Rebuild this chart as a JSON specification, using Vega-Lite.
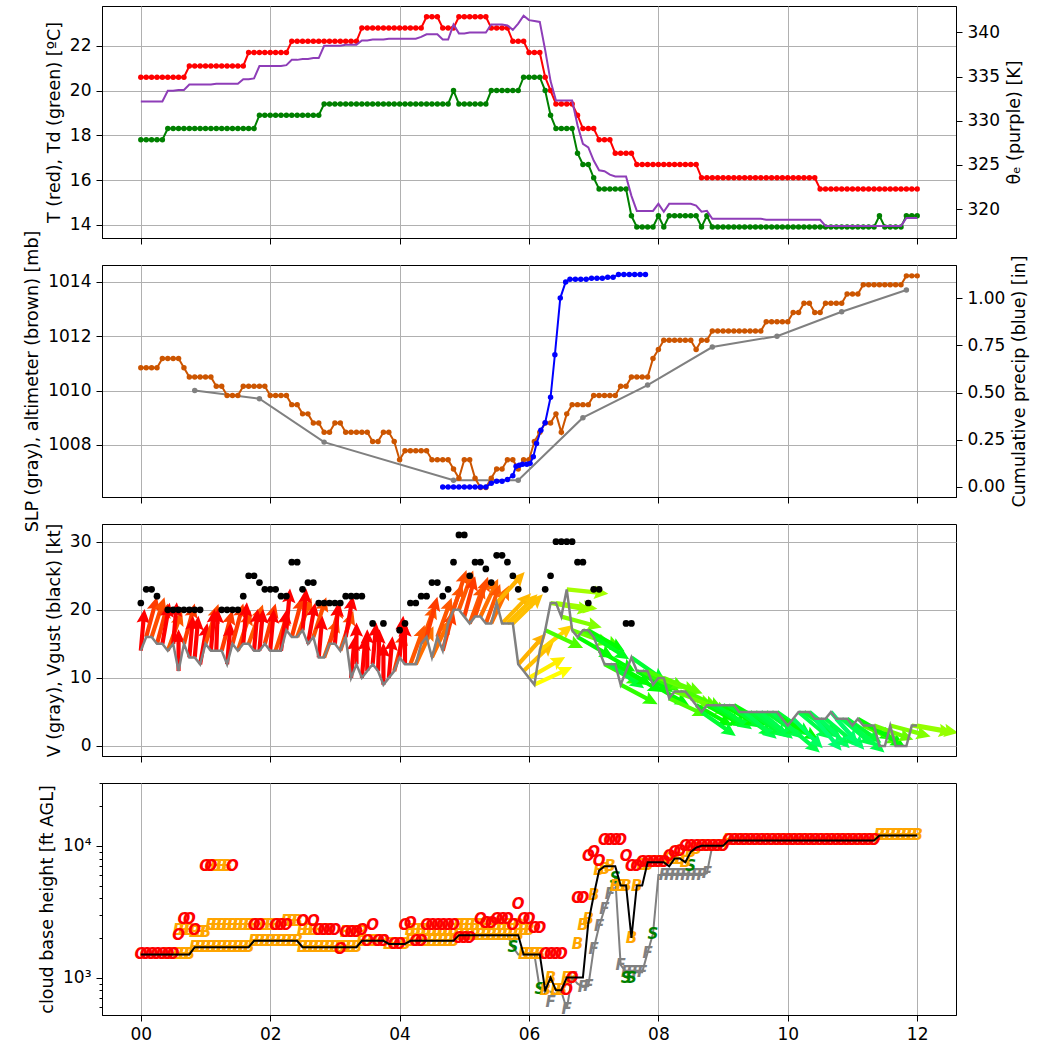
{
"$schema":"https://vega.github.io/schema/vega-lite/v6.json",
"padding":{"left":23,"top":5,"right":5,"bottom":5},
"spacing":27,
"bounds":"flush",
"config":{
 "font":"DejaVu Sans",
 "view":{"stroke":"black","strokeWidth":1},
 "axis":{"labelFont":"DejaVu Sans","titleFont":"DejaVu Sans","labelFontSize":17,"titleFontSize":17.5,"titleFontWeight":"normal","labelColor":"black","titleColor":"black","tickColor":"black","domainColor":"black","tickSize":6,"tickWidth":1,"gridColor":"#b0b0b0","gridWidth":1,"gridOpacity":1,"labelPadding":5,"titlePadding":6,"labelFlush":false}
},
"datasets":{
"obs":[
{"t":0,"T":20.6,"Td":17.8,"te":332.2,"alt":1010.84,"V":14,"G":21,"dir":185,"ceil":1500,"low":1500},
{"t":5,"T":20.6,"Td":17.8,"te":332.2,"alt":1010.84,"V":16,"G":23,"dir":195,"ceil":1500,"low":1500},
{"t":10,"T":20.6,"Td":17.8,"te":332.2,"alt":1010.84,"V":16,"G":23,"dir":198,"ceil":1500,"low":1500},
{"t":15,"T":20.6,"Td":17.8,"te":332.2,"alt":1010.84,"V":15,"G":22,"dir":195,"ceil":1500,"low":1500},
{"t":20,"T":20.6,"Td":17.8,"te":332.2,"alt":1011.18,"V":15,"G":null,"dir":190,"ceil":1500,"low":1500},
{"t":25,"T":20.6,"Td":18.3,"te":333.4,"alt":1011.18,"V":14,"G":20,"dir":200,"ceil":1500,"low":1500},
{"t":30,"T":20.6,"Td":18.3,"te":333.4,"alt":1011.18,"V":15,"G":20,"dir":185,"ceil":1500,"low":1500},
{"t":35,"T":20.6,"Td":18.3,"te":333.5,"alt":1011.18,"V":11,"G":20,"dir":180,"ceil":1500,"low":1500},
{"t":40,"T":20.6,"Td":18.3,"te":333.5,"alt":1010.84,"V":15,"G":20,"dir":195,"ceil":1500,"low":1500},
{"t":45,"T":21.1,"Td":18.3,"te":334.1,"alt":1010.5,"V":13,"G":20,"dir":185,"ceil":1500,"low":1500},
{"t":50,"T":21.1,"Td":18.3,"te":334.1,"alt":1010.5,"V":13,"G":20,"dir":185,"ceil":1700,"low":1700},
{"t":55,"T":21.1,"Td":18.3,"te":334.1,"alt":1010.5,"V":12,"G":20,"dir":190,"ceil":1700,"low":1700},
{"t":60,"T":21.1,"Td":18.3,"te":334.1,"alt":1010.5,"V":15,"G":null,"dir":198,"ceil":1700,"low":1700},
{"t":65,"T":21.1,"Td":18.3,"te":334.1,"alt":1010.5,"V":14,"G":null,"dir":185,"ceil":1700,"low":1700},
{"t":70,"T":21.1,"Td":18.3,"te":334.2,"alt":1010.16,"V":14,"G":null,"dir":182,"ceil":1700,"low":1700},
{"t":75,"T":21.1,"Td":18.3,"te":334.2,"alt":1010.16,"V":14,"G":20,"dir":195,"ceil":1700,"low":1700},
{"t":80,"T":21.1,"Td":18.3,"te":334.2,"alt":1009.82,"V":12,"G":20,"dir":185,"ceil":1700,"low":1700},
{"t":85,"T":21.1,"Td":18.3,"te":334.2,"alt":1009.82,"V":15,"G":20,"dir":195,"ceil":1700,"low":1700},
{"t":90,"T":21.1,"Td":18.3,"te":334.2,"alt":1009.82,"V":14,"G":20,"dir":198,"ceil":1700,"low":1700},
{"t":95,"T":21.1,"Td":18.3,"te":334.7,"alt":1010.16,"V":15,"G":22,"dir":185,"ceil":1700,"low":1700},
{"t":100,"T":21.7,"Td":18.3,"te":334.7,"alt":1010.16,"V":15,"G":25,"dir":200,"ceil":1700,"low":1700},
{"t":105,"T":21.7,"Td":18.3,"te":334.8,"alt":1010.16,"V":14,"G":25,"dir":185,"ceil":1900,"low":1900},
{"t":110,"T":21.7,"Td":18.9,"te":336.2,"alt":1010.16,"V":14,"G":24,"dir":185,"ceil":1900,"low":1900},
{"t":115,"T":21.7,"Td":18.9,"te":336.2,"alt":1010.16,"V":15,"G":23,"dir":195,"ceil":1900,"low":1900},
{"t":120,"T":21.7,"Td":18.9,"te":336.2,"alt":1009.82,"V":14,"G":23,"dir":185,"ceil":1900,"low":1900},
{"t":125,"T":21.7,"Td":18.9,"te":336.2,"alt":1009.82,"V":14,"G":23,"dir":198,"ceil":1900,"low":1900},
{"t":130,"T":21.7,"Td":18.9,"te":336.2,"alt":1009.82,"V":14,"G":22,"dir":188,"ceil":1900,"low":1900},
{"t":135,"T":21.7,"Td":18.9,"te":336.3,"alt":1009.82,"V":17,"G":22,"dir":185,"ceil":1900,"low":1900},
{"t":140,"T":22.2,"Td":18.9,"te":336.9,"alt":1009.48,"V":16,"G":27,"dir":195,"ceil":1900,"low":1900},
{"t":145,"T":22.2,"Td":18.9,"te":336.9,"alt":1009.48,"V":16,"G":27,"dir":200,"ceil":1900,"low":1900},
{"t":150,"T":22.2,"Td":18.9,"te":337.0,"alt":1009.14,"V":17,"G":23,"dir":185,"ceil":1700,"low":1700},
{"t":155,"T":22.2,"Td":18.9,"te":337.0,"alt":1009.14,"V":15,"G":24,"dir":190,"ceil":1700,"low":1700},
{"t":160,"T":22.2,"Td":18.9,"te":337.1,"alt":1008.8,"V":16,"G":24,"dir":198,"ceil":1700,"low":1700},
{"t":165,"T":22.2,"Td":18.9,"te":337.1,"alt":1008.8,"V":13,"G":21,"dir":185,"ceil":1700,"low":1700},
{"t":170,"T":22.2,"Td":19.4,"te":338.5,"alt":1008.46,"V":13,"G":21,"dir":200,"ceil":1700,"low":1700},
{"t":175,"T":22.2,"Td":19.4,"te":338.5,"alt":1008.46,"V":15,"G":21,"dir":195,"ceil":1700,"low":1700},
{"t":180,"T":22.2,"Td":19.4,"te":338.5,"alt":1008.8,"V":15,"G":21,"dir":185,"ceil":1700,"low":1700},
{"t":185,"T":22.2,"Td":19.4,"te":338.5,"alt":1008.8,"V":14,"G":21,"dir":198,"ceil":1700,"low":1700},
{"t":190,"T":22.2,"Td":19.4,"te":338.6,"alt":1008.46,"V":16,"G":22,"dir":190,"ceil":1700,"low":1700},
{"t":195,"T":22.2,"Td":19.4,"te":338.6,"alt":1008.46,"V":10,"G":22,"dir":185,"ceil":1700,"low":1700},
{"t":200,"T":22.2,"Td":19.4,"te":338.6,"alt":1008.46,"V":12,"G":22,"dir":180,"ceil":1700,"low":1700},
{"t":205,"T":22.8,"Td":19.4,"te":339.1,"alt":1008.46,"V":10,"G":22,"dir":185,"ceil":1900,"low":1900},
{"t":210,"T":22.8,"Td":19.4,"te":339.1,"alt":1008.46,"V":11,"G":null,"dir":180,"ceil":1900,"low":1900},
{"t":215,"T":22.8,"Td":19.4,"te":339.2,"alt":1008.12,"V":12,"G":18,"dir":185,"ceil":1900,"low":1900},
{"t":220,"T":22.8,"Td":19.4,"te":339.2,"alt":1008.12,"V":11,"G":null,"dir":182,"ceil":1900,"low":1900},
{"t":225,"T":22.8,"Td":19.4,"te":339.2,"alt":1008.46,"V":9,"G":18,"dir":180,"ceil":1900,"low":1900},
{"t":230,"T":22.8,"Td":19.4,"te":339.3,"alt":1008.46,"V":10,"G":null,"dir":185,"ceil":1800,"low":1800},
{"t":235,"T":22.8,"Td":19.4,"te":339.3,"alt":1008.12,"V":11,"G":null,"dir":195,"ceil":1800,"low":1800},
{"t":240,"T":22.8,"Td":19.4,"te":339.3,"alt":1007.45,"V":13,"G":17,"dir":185,"ceil":1800,"low":1800},
{"t":245,"T":22.8,"Td":19.4,"te":339.3,"alt":1007.78,"V":12,"G":18,"dir":180,"ceil":1800,"low":1800},
{"t":250,"T":22.8,"Td":19.4,"te":339.3,"alt":1007.78,"V":12,"G":21,"dir":200,"ceil":1900,"low":1900},
{"t":255,"T":22.8,"Td":19.4,"te":339.3,"alt":1007.78,"V":12,"G":21,"dir":205,"ceil":1900,"low":1900},
{"t":260,"T":22.8,"Td":19.4,"te":339.5,"alt":1007.78,"V":15,"G":22,"dir":200,"ceil":1900,"low":1900},
{"t":265,"T":23.3,"Td":19.4,"te":339.8,"alt":1007.78,"V":16,"G":22,"dir":195,"ceil":1900,"low":1900},
{"t":270,"T":23.3,"Td":19.4,"te":339.8,"alt":1007.45,"V":13,"G":24,"dir":205,"ceil":1900,"low":1900},
{"t":275,"T":23.3,"Td":19.4,"te":339.8,"alt":1007.45,"V":16,"G":24,"dir":200,"ceil":1900,"low":1900},
{"t":280,"T":22.8,"Td":19.4,"te":339.2,"alt":1007.45,"V":14,"G":22,"dir":195,"ceil":1900,"low":1900},
{"t":285,"T":22.8,"Td":19.4,"te":339.2,"alt":1007.45,"V":18,"G":23,"dir":200,"ceil":1900,"low":1900},
{"t":290,"T":22.8,"Td":20.0,"te":340.9,"alt":1007.11,"V":20,"G":27,"dir":198,"ceil":1900,"low":1900},
{"t":295,"T":23.3,"Td":19.4,"te":339.9,"alt":1006.77,"V":20,"G":31,"dir":200,"ceil":2100,"low":2100},
{"t":300,"T":23.3,"Td":19.4,"te":339.9,"alt":1007.45,"V":19,"G":31,"dir":195,"ceil":2100,"low":2100},
{"t":305,"T":23.3,"Td":19.4,"te":340.0,"alt":1007.45,"V":18,"G":25,"dir":200,"ceil":2100,"low":2100},
{"t":310,"T":23.3,"Td":19.4,"te":340.0,"alt":1006.77,"V":19,"G":27,"dir":198,"ceil":2100,"low":2100},
{"t":315,"T":23.3,"Td":19.4,"te":340.0,"alt":1006.43,"V":19,"G":27,"dir":205,"ceil":2100,"low":2100},
{"t":320,"T":23.3,"Td":19.4,"te":340.0,"alt":1006.43,"V":18,"G":26,"dir":200,"ceil":2100,"low":2100},
{"t":325,"T":22.8,"Td":20.0,"te":340.9,"alt":1006.77,"V":18,"G":24,"dir":205,"ceil":2100,"low":2100},
{"t":330,"T":22.8,"Td":20.0,"te":340.9,"alt":1007.11,"V":21,"G":28,"dir":222,"ceil":2100,"low":2100},
{"t":335,"T":22.8,"Td":20.0,"te":340.9,"alt":1007.11,"V":18,"G":28,"dir":224,"ceil":2100,"low":2100},
{"t":340,"T":22.8,"Td":20.0,"te":340.8,"alt":1007.45,"V":18,"G":27,"dir":226,"ceil":2100,"low":2100},
{"t":345,"T":22.2,"Td":20.0,"te":340.3,"alt":1007.45,"V":18,"G":25,"dir":226,"ceil":2100,"low":1700},
{"t":350,"T":22.2,"Td":20.0,"te":341.0,"alt":1007.11,"V":12,"G":23,"dir":222,"ceil":2100,"low":1500},
{"t":355,"T":22.2,"Td":20.6,"te":341.9,"alt":1007.45,"V":11,"G":null,"dir":226,"ceil":1500,"low":1500},
{"t":360,"T":21.7,"Td":20.6,"te":341.4,"alt":1007.45,"V":10,"G":null,"dir":240,"ceil":1500,"low":1500},
{"t":365,"T":21.7,"Td":20.6,"te":341.3,"alt":1008.12,"V":9,"G":null,"dir":245,"ceil":1500,"low":1500},
{"t":370,"T":21.7,"Td":20.6,"te":341.2,"alt":1008.46,"V":14,"G":null,"dir":232,"ceil":1500,"low":820},
{"t":375,"T":20.6,"Td":20.0,"te":338.0,"alt":1008.8,"V":17,"G":23,"dir":295,"ceil":800,"low":800},
{"t":380,"T":20.0,"Td":18.9,"te":334.5,"alt":1008.8,"V":21,"G":25,"dir":280,"ceil":1000,"low":780},
{"t":385,"T":19.4,"Td":18.3,"te":332.3,"alt":1009.14,"V":21,"G":30,"dir":278,"ceil":800,"low":750},
{"t":390,"T":19.4,"Td":18.3,"te":332.3,"alt":1008.46,"V":19,"G":30,"dir":285,"ceil":800,"low":780},
{"t":395,"T":19.4,"Td":18.3,"te":332.3,"alt":1009.14,"V":23,"G":30,"dir":276,"ceil":1000,"low":580},
{"t":400,"T":19.4,"Td":18.3,"te":332.3,"alt":1009.48,"V":17,"G":30,"dir":290,"ceil":1000,"low":1000},
{"t":405,"T":18.9,"Td":17.2,"te":329.5,"alt":1009.48,"V":16,"G":27,"dir":300,"ceil":1000,"low":900},
{"t":410,"T":18.3,"Td":16.7,"te":327.4,"alt":1009.48,"V":17,"G":27,"dir":295,"ceil":1000,"low":850},
{"t":415,"T":18.3,"Td":16.7,"te":327.0,"alt":1009.48,"V":17,"G":21,"dir":300,"ceil":2600,"low":860},
{"t":420,"T":18.3,"Td":16.1,"te":325.5,"alt":1009.82,"V":16,"G":23,"dir":302,"ceil":4200,"low":1650},
{"t":425,"T":17.8,"Td":15.6,"te":324.4,"alt":1009.82,"V":14,"G":23,"dir":300,"ceil":6500,"low":2450},
{"t":430,"T":17.8,"Td":15.6,"te":324.3,"alt":1009.82,"V":12,"G":null,"dir":298,"ceil":7000,"low":3300},
{"t":435,"T":17.8,"Td":15.6,"te":323.9,"alt":1009.82,"V":12,"G":null,"dir":305,"ceil":7000,"low":4300},
{"t":440,"T":17.2,"Td":15.6,"te":323.7,"alt":1009.82,"V":12,"G":null,"dir":300,"ceil":7000,"low":5700},
{"t":445,"T":17.2,"Td":15.6,"te":323.7,"alt":1010.16,"V":9,"G":null,"dir":298,"ceil":5000,"low":1250},
{"t":450,"T":17.2,"Td":15.6,"te":323.7,"alt":1010.16,"V":11,"G":18,"dir":300,"ceil":5000,"low":1100},
{"t":455,"T":17.2,"Td":14.4,"te":321.5,"alt":1010.5,"V":13,"G":18,"dir":305,"ceil":2000,"low":1100},
{"t":460,"T":16.7,"Td":13.9,"te":319.8,"alt":1010.5,"V":11,"G":null,"dir":300,"ceil":5000,"low":1100},
{"t":465,"T":16.7,"Td":13.9,"te":319.8,"alt":1010.5,"V":11,"G":null,"dir":298,"ceil":5000,"low":1100},
{"t":470,"T":16.7,"Td":13.9,"te":319.8,"alt":1010.5,"V":11,"G":null,"dir":295,"ceil":7500,"low":1550},
{"t":475,"T":16.7,"Td":13.9,"te":319.8,"alt":1011.18,"V":9,"G":null,"dir":300,"ceil":7500,"low":2150},
{"t":480,"T":16.7,"Td":14.4,"te":320.6,"alt":1011.51,"V":10,"G":null,"dir":290,"ceil":7500,"low":6000},
{"t":485,"T":16.7,"Td":13.9,"te":319.7,"alt":1011.85,"V":10,"G":null,"dir":292,"ceil":7500,"low":6000},
{"t":490,"T":16.7,"Td":14.4,"te":320.6,"alt":1011.85,"V":7,"G":null,"dir":295,"ceil":7000,"low":6000},
{"t":495,"T":16.7,"Td":14.4,"te":320.6,"alt":1011.85,"V":8,"G":null,"dir":290,"ceil":8000,"low":6000},
{"t":500,"T":16.7,"Td":14.4,"te":320.6,"alt":1011.85,"V":8,"G":null,"dir":292,"ceil":8000,"low":6000},
{"t":505,"T":16.7,"Td":14.4,"te":320.6,"alt":1011.85,"V":8,"G":null,"dir":295,"ceil":7500,"low":6000},
{"t":510,"T":16.7,"Td":14.4,"te":320.6,"alt":1011.85,"V":7,"G":null,"dir":290,"ceil":9000,"low":6000},
{"t":515,"T":16.7,"Td":14.4,"te":320.4,"alt":1011.51,"V":6,"G":null,"dir":300,"ceil":9700,"low":6000},
{"t":520,"T":16.1,"Td":13.9,"te":319.7,"alt":1011.85,"V":5,"G":null,"dir":305,"ceil":10000,"low":6000},
{"t":525,"T":16.1,"Td":14.4,"te":319.8,"alt":1011.85,"V":6,"G":null,"dir":300,"ceil":10000,"low":6200},
{"t":530,"T":16.1,"Td":13.9,"te":318.9,"alt":1012.19,"V":6,"G":null,"dir":302,"ceil":10000,"low":10000},
{"t":535,"T":16.1,"Td":13.9,"te":318.9,"alt":1012.19,"V":6,"G":null,"dir":305,"ceil":10000,"low":10000},
{"t":540,"T":16.1,"Td":13.9,"te":318.9,"alt":1012.19,"V":6,"G":null,"dir":300,"ceil":10000,"low":10000},
{"t":545,"T":16.1,"Td":13.9,"te":318.9,"alt":1012.19,"V":6,"G":null,"dir":303,"ceil":11000,"low":11000},
{"t":550,"T":16.1,"Td":13.9,"te":318.9,"alt":1012.19,"V":6,"G":null,"dir":300,"ceil":11000,"low":11000},
{"t":555,"T":16.1,"Td":13.9,"te":318.9,"alt":1012.19,"V":5,"G":null,"dir":305,"ceil":11000,"low":11000},
{"t":560,"T":16.1,"Td":13.9,"te":318.9,"alt":1012.19,"V":5,"G":null,"dir":310,"ceil":11000,"low":11000},
{"t":565,"T":16.1,"Td":13.9,"te":318.9,"alt":1012.19,"V":5,"G":null,"dir":305,"ceil":11000,"low":11000},
{"t":570,"T":16.1,"Td":13.9,"te":318.9,"alt":1012.19,"V":5,"G":null,"dir":308,"ceil":11000,"low":11000},
{"t":575,"T":16.1,"Td":13.9,"te":318.9,"alt":1012.19,"V":5,"G":null,"dir":310,"ceil":11000,"low":11000},
{"t":580,"T":16.1,"Td":13.9,"te":318.8,"alt":1012.53,"V":5,"G":null,"dir":305,"ceil":11000,"low":11000},
{"t":585,"T":16.1,"Td":13.9,"te":318.8,"alt":1012.53,"V":5,"G":null,"dir":310,"ceil":11000,"low":11000},
{"t":590,"T":16.1,"Td":13.9,"te":318.8,"alt":1012.53,"V":5,"G":null,"dir":305,"ceil":11000,"low":11000},
{"t":595,"T":16.1,"Td":13.9,"te":318.8,"alt":1012.53,"V":4,"G":null,"dir":300,"ceil":11000,"low":11000},
{"t":600,"T":16.1,"Td":13.9,"te":318.8,"alt":1012.53,"V":3,"G":null,"dir":310,"ceil":11000,"low":11000},
{"t":605,"T":16.1,"Td":13.9,"te":318.8,"alt":1012.87,"V":4,"G":null,"dir":315,"ceil":11000,"low":11000},
{"t":610,"T":16.1,"Td":13.9,"te":318.8,"alt":1012.87,"V":5,"G":null,"dir":310,"ceil":11000,"low":11000},
{"t":615,"T":16.1,"Td":13.9,"te":318.8,"alt":1013.21,"V":5,"G":null,"dir":305,"ceil":11000,"low":11000},
{"t":620,"T":16.1,"Td":13.9,"te":318.8,"alt":1013.21,"V":5,"G":null,"dir":310,"ceil":11000,"low":11000},
{"t":625,"T":16.1,"Td":13.9,"te":318.8,"alt":1012.87,"V":4,"G":null,"dir":320,"ceil":11000,"low":11000},
{"t":630,"T":15.6,"Td":13.9,"te":318.8,"alt":1012.87,"V":4,"G":null,"dir":315,"ceil":11000,"low":11000},
{"t":635,"T":15.6,"Td":13.9,"te":318.1,"alt":1013.21,"V":4,"G":null,"dir":310,"ceil":11000,"low":11000},
{"t":640,"T":15.6,"Td":13.9,"te":318.1,"alt":1013.21,"V":5,"G":null,"dir":320,"ceil":11000,"low":11000},
{"t":645,"T":15.6,"Td":13.9,"te":318.1,"alt":1013.21,"V":4,"G":null,"dir":318,"ceil":11000,"low":11000},
{"t":650,"T":15.6,"Td":13.9,"te":318.1,"alt":1013.21,"V":4,"G":null,"dir":310,"ceil":11000,"low":11000},
{"t":655,"T":15.6,"Td":13.9,"te":318.1,"alt":1013.55,"V":4,"G":null,"dir":305,"ceil":11000,"low":11000},
{"t":660,"T":15.6,"Td":13.9,"te":318.1,"alt":1013.55,"V":3,"G":null,"dir":310,"ceil":11000,"low":11000},
{"t":665,"T":15.6,"Td":13.9,"te":318.1,"alt":1013.55,"V":4,"G":null,"dir":300,"ceil":11000,"low":11000},
{"t":670,"T":15.6,"Td":13.9,"te":318.1,"alt":1013.89,"V":3,"G":null,"dir":295,"ceil":11000,"low":11000},
{"t":675,"T":15.6,"Td":13.9,"te":318.1,"alt":1013.89,"V":3,"G":null,"dir":300,"ceil":11000,"low":11000},
{"t":680,"T":15.6,"Td":13.9,"te":318.1,"alt":1013.89,"V":3,"G":null,"dir":290,"ceil":11000,"low":11000},
{"t":685,"T":15.6,"Td":14.4,"te":318.1,"alt":1013.89,"V":0,"G":null,"dir":null,"ceil":12000,"low":12000},
{"t":690,"T":15.6,"Td":13.9,"te":318.1,"alt":1013.89,"V":0,"G":null,"dir":null,"ceil":12000,"low":12000},
{"t":695,"T":15.6,"Td":13.9,"te":318.1,"alt":1013.89,"V":3,"G":null,"dir":285,"ceil":12000,"low":12000},
{"t":700,"T":15.6,"Td":13.9,"te":318.1,"alt":1013.89,"V":0,"G":null,"dir":null,"ceil":12000,"low":12000},
{"t":705,"T":15.6,"Td":13.9,"te":318.1,"alt":1013.89,"V":0,"G":null,"dir":null,"ceil":12000,"low":12000},
{"t":710,"T":15.6,"Td":14.4,"te":319.0,"alt":1014.22,"V":0,"G":null,"dir":null,"ceil":12000,"low":12000},
{"t":715,"T":15.6,"Td":14.4,"te":319.0,"alt":1014.22,"V":3,"G":null,"dir":280,"ceil":12000,"low":12000},
{"t":720,"T":15.6,"Td":14.4,"te":319.0,"alt":1014.22,"V":3,"G":null,"dir":280,"ceil":12000,"low":12000}
],
"slp":[{"t":50,"slp":1010.0},{"t":110,"slp":1009.7},{"t":170,"slp":1008.1},{"t":290,"slp":1006.7},{"t":350,"slp":1006.7},{"t":410,"slp":1009.0},{"t":470,"slp":1010.2},{"t":530,"slp":1011.6},{"t":590,"slp":1012.0},{"t":650,"slp":1012.9},{"t":710,"slp":1013.7}],
"pcp":[{"t":280,"p":0},{"t":285,"p":0},{"t":290,"p":0},{"t":295,"p":0},{"t":300,"p":0},{"t":305,"p":0},{"t":310,"p":0},{"t":315,"p":0},{"t":320,"p":0},{"t":325,"p":0.02},{"t":330,"p":0.03},{"t":335,"p":0.03},{"t":340,"p":0.04},{"t":345,"p":0.06},{"t":348,"p":0.11},{"t":351,"p":0.115},{"t":354,"p":0.12},{"t":358,"p":0.12},{"t":361,"p":0.125},{"t":364,"p":0.16},{"t":367,"p":0.23},{"t":371,"p":0.3},{"t":375,"p":0.34},{"t":380,"p":0.475},{"t":384,"p":0.7},{"t":389,"p":1.0},{"t":394,"p":1.085},{"t":398,"p":1.1},{"t":403,"p":1.1},{"t":408,"p":1.1},{"t":413,"p":1.1},{"t":418,"p":1.105},{"t":423,"p":1.105},{"t":428,"p":1.105},{"t":433,"p":1.11},{"t":438,"p":1.11},{"t":443,"p":1.125},{"t":448,"p":1.125},{"t":453,"p":1.125},{"t":458,"p":1.125},{"t":463,"p":1.125},{"t":468,"p":1.125}],
"cld":[
{"t":380,"c":"F","z":650},{"t":395,"c":"F","z":580},{"t":400,"c":"F","z":1000},{"t":410,"c":"F","z":850},{"t":415,"c":"F","z":860},{"t":420,"c":"F","z":1650},{"t":425,"c":"F","z":2450},{"t":430,"c":"F","z":3300},{"t":435,"c":"F","z":4300},{"t":445,"c":"F","z":1250},{"t":450,"c":"F","z":1100},{"t":455,"c":"F","z":1100},{"t":460,"c":"F","z":1100},{"t":465,"c":"F","z":1100},{"t":470,"c":"F","z":1550},{"t":485,"c":"F","z":6000},{"t":490,"c":"F","z":6000},{"t":495,"c":"F","z":6000},{"t":500,"c":"F","z":6000},{"t":505,"c":"F","z":6000},{"t":510,"c":"F","z":6000},{"t":515,"c":"F","z":6000},{"t":520,"c":"F","z":6000},{"t":525,"c":"F","z":6200},
{"t":345,"c":"S","z":1700},{"t":370,"c":"S","z":820},{"t":440,"c":"S","z":5700},{"t":450,"c":"S","z":1000},{"t":455,"c":"S","z":1000},{"t":475,"c":"S","z":2150},{"t":510,"c":"S","z":7000},
{"t":35,"c":"B","z":2300},{"t":40,"c":"B","z":2300},{"t":45,"c":"B","z":2300},{"t":50,"c":"B","z":2200},{"t":55,"c":"B","z":2200},{"t":60,"c":"B","z":2200},
{"t":65,"c":"B","z":2500},{"t":70,"c":"B","z":2500},{"t":75,"c":"B","z":2500},{"t":80,"c":"B","z":2500},{"t":85,"c":"B","z":2500},{"t":90,"c":"B","z":2500},{"t":95,"c":"B","z":2500},{"t":100,"c":"B","z":2500},{"t":105,"c":"B","z":2500},{"t":110,"c":"B","z":2500},{"t":115,"c":"B","z":2500},{"t":120,"c":"B","z":2500},{"t":125,"c":"B","z":2500},{"t":130,"c":"B","z":2500},
{"t":135,"c":"B","z":2700},{"t":140,"c":"B","z":2700},{"t":145,"c":"B","z":2700},
{"t":150,"c":"B","z":2300},{"t":155,"c":"B","z":2300},{"t":160,"c":"B","z":2300},{"t":165,"c":"B","z":2300},{"t":170,"c":"B","z":2300},{"t":175,"c":"B","z":2300},
{"t":190,"c":"B","z":2200},{"t":195,"c":"B","z":2200},{"t":200,"c":"B","z":2200},{"t":205,"c":"B","z":2200},
{"t":250,"c":"B","z":2300},{"t":255,"c":"B","z":2300},{"t":260,"c":"B","z":2300},{"t":265,"c":"B","z":2300},{"t":270,"c":"B","z":2300},{"t":275,"c":"B","z":2300},{"t":280,"c":"B","z":2300},{"t":285,"c":"B","z":2300},{"t":290,"c":"B","z":2300},
{"t":295,"c":"B","z":2500},{"t":300,"c":"B","z":2500},{"t":305,"c":"B","z":2500},{"t":310,"c":"B","z":2500},{"t":315,"c":"B","z":2500},{"t":320,"c":"B","z":2500},{"t":325,"c":"B","z":2500},{"t":330,"c":"B","z":2500},{"t":335,"c":"B","z":2500},{"t":340,"c":"B","z":2500},{"t":345,"c":"B","z":2500},{"t":350,"c":"B","z":2500},{"t":355,"c":"B","z":2300},{"t":360,"c":"B","z":2300},
{"t":65,"c":"B","z":7000},{"t":70,"c":"B","z":7000},{"t":75,"c":"B","z":7000},{"t":80,"c":"B","z":7000},
{"t":25,"c":"B","z":1500},{"t":30,"c":"B","z":1500},{"t":35,"c":"B","z":1500},{"t":40,"c":"B","z":1500},{"t":45,"c":"B","z":1500},
{"t":50,"c":"B","z":1700},{"t":55,"c":"B","z":1700},{"t":60,"c":"B","z":1700},{"t":65,"c":"B","z":1700},{"t":70,"c":"B","z":1700},{"t":75,"c":"B","z":1700},{"t":80,"c":"B","z":1700},{"t":85,"c":"B","z":1700},{"t":90,"c":"B","z":1700},{"t":95,"c":"B","z":1700},{"t":100,"c":"B","z":1700},
{"t":105,"c":"B","z":1900},{"t":110,"c":"B","z":1900},{"t":115,"c":"B","z":1900},{"t":120,"c":"B","z":1900},{"t":125,"c":"B","z":1900},{"t":130,"c":"B","z":1900},{"t":135,"c":"B","z":1900},{"t":140,"c":"B","z":1900},{"t":145,"c":"B","z":1900},
{"t":150,"c":"B","z":1700},{"t":155,"c":"B","z":1700},{"t":160,"c":"B","z":1700},{"t":165,"c":"B","z":1700},{"t":170,"c":"B","z":1700},{"t":175,"c":"B","z":1700},{"t":180,"c":"B","z":1700},{"t":185,"c":"B","z":1700},{"t":190,"c":"B","z":1700},{"t":195,"c":"B","z":1700},{"t":200,"c":"B","z":1700},
{"t":205,"c":"B","z":1900},{"t":210,"c":"B","z":1900},{"t":215,"c":"B","z":1900},{"t":220,"c":"B","z":1900},{"t":225,"c":"B","z":1900},
{"t":230,"c":"B","z":1800},{"t":235,"c":"B","z":1800},{"t":240,"c":"B","z":1800},{"t":245,"c":"B","z":1800},
{"t":250,"c":"B","z":1900},{"t":255,"c":"B","z":1900},{"t":260,"c":"B","z":1900},{"t":265,"c":"B","z":1900},{"t":270,"c":"B","z":1900},{"t":275,"c":"B","z":1900},{"t":280,"c":"B","z":1900},{"t":285,"c":"B","z":1900},{"t":290,"c":"B","z":1900},
{"t":295,"c":"B","z":2100},{"t":300,"c":"B","z":2100},{"t":305,"c":"B","z":2100},{"t":310,"c":"B","z":2100},{"t":315,"c":"B","z":2100},{"t":320,"c":"B","z":2100},{"t":325,"c":"B","z":2100},{"t":330,"c":"B","z":2100},{"t":335,"c":"B","z":2100},{"t":340,"c":"B","z":2100},{"t":345,"c":"B","z":2100},{"t":350,"c":"B","z":2100},
{"t":355,"c":"B","z":1500},{"t":360,"c":"B","z":1500},{"t":365,"c":"B","z":1500},{"t":370,"c":"B","z":1500},
{"t":375,"c":"B","z":800},{"t":380,"c":"B","z":1000},{"t":385,"c":"B","z":800},{"t":390,"c":"B","z":800},{"t":395,"c":"B","z":1000},{"t":400,"c":"B","z":1000},{"t":405,"c":"B","z":1800},{"t":410,"c":"B","z":2500},{"t":415,"c":"B","z":2800},{"t":420,"c":"B","z":4200},{"t":425,"c":"B","z":6500},{"t":430,"c":"B","z":6700},{"t":435,"c":"B","z":7000},{"t":440,"c":"B","z":5000},{"t":445,"c":"B","z":5000},{"t":450,"c":"B","z":5000},{"t":455,"c":"B","z":2000},{"t":460,"c":"B","z":5000},{"t":465,"c":"B","z":7200},{"t":470,"c":"B","z":7200},{"t":475,"c":"B","z":7500},{"t":480,"c":"B","z":7500},{"t":485,"c":"B","z":7500},{"t":490,"c":"B","z":8000},{"t":495,"c":"B","z":8000},{"t":500,"c":"B","z":8000},{"t":505,"c":"B","z":7500},{"t":510,"c":"B","z":9000},{"t":515,"c":"B","z":9500},
{"t":520,"c":"B","z":10000},{"t":525,"c":"B","z":10000},{"t":530,"c":"B","z":10000},{"t":535,"c":"B","z":10000},{"t":540,"c":"B","z":10000},
{"t":545,"c":"B","z":11000},{"t":550,"c":"B","z":11000},{"t":555,"c":"B","z":11000},{"t":560,"c":"B","z":11000},{"t":565,"c":"B","z":11000},{"t":570,"c":"B","z":11000},{"t":575,"c":"B","z":11000},{"t":580,"c":"B","z":11000},{"t":585,"c":"B","z":11000},{"t":590,"c":"B","z":11000},{"t":595,"c":"B","z":11000},{"t":600,"c":"B","z":11000},{"t":605,"c":"B","z":11000},{"t":610,"c":"B","z":11000},{"t":615,"c":"B","z":11000},{"t":620,"c":"B","z":11000},{"t":625,"c":"B","z":11000},{"t":630,"c":"B","z":11000},{"t":635,"c":"B","z":11000},{"t":640,"c":"B","z":11000},{"t":645,"c":"B","z":11000},{"t":650,"c":"B","z":11000},{"t":655,"c":"B","z":11000},{"t":660,"c":"B","z":11000},{"t":665,"c":"B","z":11000},{"t":670,"c":"B","z":11000},{"t":675,"c":"B","z":11000},{"t":680,"c":"B","z":11000},
{"t":685,"c":"B","z":12000},{"t":690,"c":"B","z":12000},{"t":695,"c":"B","z":12000},{"t":700,"c":"B","z":12000},{"t":705,"c":"B","z":12000},{"t":710,"c":"B","z":12000},{"t":715,"c":"B","z":12000},{"t":720,"c":"B","z":12000},
{"t":0,"c":"O","z":1500},{"t":5,"c":"O","z":1500},{"t":10,"c":"O","z":1500},{"t":15,"c":"O","z":1500},{"t":20,"c":"O","z":1500},{"t":25,"c":"O","z":1500},{"t":30,"c":"O","z":1500},
{"t":35,"c":"O","z":2100},{"t":40,"c":"O","z":2800},{"t":45,"c":"O","z":2800},{"t":50,"c":"O","z":2300},{"t":60,"c":"O","z":7000},{"t":65,"c":"O","z":7000},{"t":85,"c":"O","z":7000},
{"t":105,"c":"O","z":2500},{"t":110,"c":"O","z":2500},{"t":125,"c":"O","z":2500},{"t":130,"c":"O","z":2500},{"t":135,"c":"O","z":2500},{"t":150,"c":"O","z":2700},{"t":160,"c":"O","z":2700},
{"t":165,"c":"O","z":2300},{"t":170,"c":"O","z":2300},{"t":175,"c":"O","z":2300},{"t":180,"c":"O","z":2300},{"t":185,"c":"O","z":1650},{"t":190,"c":"O","z":2200},{"t":195,"c":"O","z":2200},{"t":200,"c":"O","z":2200},{"t":205,"c":"O","z":2300},
{"t":210,"c":"O","z":1900},{"t":215,"c":"O","z":2500},{"t":220,"c":"O","z":1900},{"t":225,"c":"O","z":1900},{"t":235,"c":"O","z":1800},{"t":240,"c":"O","z":1800},{"t":245,"c":"O","z":2500},{"t":250,"c":"O","z":2600},{"t":255,"c":"O","z":1900},{"t":260,"c":"O","z":1900},
{"t":265,"c":"O","z":2500},{"t":270,"c":"O","z":2500},{"t":275,"c":"O","z":2500},{"t":280,"c":"O","z":2500},{"t":285,"c":"O","z":2500},{"t":290,"c":"O","z":2500},
{"t":295,"c":"O","z":2000},{"t":300,"c":"O","z":2000},{"t":305,"c":"O","z":2000},{"t":315,"c":"O","z":2800},{"t":320,"c":"O","z":2600},{"t":325,"c":"O","z":2600},{"t":330,"c":"O","z":2800},{"t":335,"c":"O","z":2800},{"t":340,"c":"O","z":2800},{"t":345,"c":"O","z":2500},{"t":350,"c":"O","z":3600},{"t":355,"c":"O","z":2800},{"t":360,"c":"O","z":2800},{"t":365,"c":"O","z":2400},{"t":370,"c":"O","z":2400},
{"t":375,"c":"O","z":1500},{"t":380,"c":"O","z":1500},{"t":385,"c":"O","z":1500},{"t":390,"c":"O","z":1500},{"t":395,"c":"O","z":800},{"t":400,"c":"O","z":1000},{"t":405,"c":"O","z":4000},{"t":410,"c":"O","z":4000},{"t":415,"c":"O","z":8400},{"t":420,"c":"O","z":9000},{"t":425,"c":"O","z":7700},
{"t":430,"c":"O","z":11000},{"t":435,"c":"O","z":11000},{"t":440,"c":"O","z":11000},{"t":445,"c":"O","z":11000},{"t":450,"c":"O","z":8400},{"t":455,"c":"O","z":7000},{"t":460,"c":"O","z":7000},
{"t":465,"c":"O","z":7500},{"t":470,"c":"O","z":7500},{"t":475,"c":"O","z":7500},{"t":480,"c":"O","z":7500},{"t":485,"c":"O","z":7500},{"t":490,"c":"O","z":8400},{"t":495,"c":"O","z":9000},{"t":500,"c":"O","z":9200},
{"t":505,"c":"O","z":10000},{"t":510,"c":"O","z":10000},{"t":515,"c":"O","z":10000},{"t":520,"c":"O","z":10000},{"t":525,"c":"O","z":10000},{"t":530,"c":"O","z":10000},{"t":535,"c":"O","z":10000},{"t":540,"c":"O","z":10000},
{"t":545,"c":"O","z":11000},{"t":550,"c":"O","z":11000},{"t":555,"c":"O","z":11000},{"t":560,"c":"O","z":11000},{"t":565,"c":"O","z":11000},{"t":570,"c":"O","z":11000},{"t":575,"c":"O","z":11000},{"t":580,"c":"O","z":11000},{"t":585,"c":"O","z":11000},{"t":590,"c":"O","z":11000},{"t":595,"c":"O","z":11000},{"t":600,"c":"O","z":11000},{"t":605,"c":"O","z":11000},{"t":610,"c":"O","z":11000},{"t":615,"c":"O","z":11000},{"t":620,"c":"O","z":11000},{"t":625,"c":"O","z":11000},{"t":630,"c":"O","z":11000},{"t":635,"c":"O","z":11000},{"t":640,"c":"O","z":11000},{"t":645,"c":"O","z":11000},{"t":650,"c":"O","z":11000},{"t":655,"c":"O","z":11000},{"t":660,"c":"O","z":11000},{"t":665,"c":"O","z":11000},{"t":670,"c":"O","z":11000},{"t":675,"c":"O","z":11000},{"t":680,"c":"O","z":11000}
]
},
"vconcat":[
{
 "width":854,"height":232,
 "data":{"name":"obs"},
 "layer":[
  {"layer":[
   {"mark":{"type":"line","color":"#ff0000","strokeWidth":2,"point":{"filled":true,"size":30,"color":"#ff0000"}},
    "encoding":{"x":{"field":"t","type":"quantitative","scale":{"domain":[-36,756],"nice":false,"zero":false},"axis":{"values":[0,120,240,360,480,600,720],"labels":false,"title":null}},
     "y":{"field":"T","type":"quantitative","scale":{"domain":[13.41,23.78],"nice":false,"zero":false},"axis":{"values":[14,16,18,20,22],"title":"T (red), Td (green) [ºC]"}}}},
   {"mark":{"type":"line","color":"#008000","strokeWidth":2,"point":{"filled":true,"size":30,"color":"#008000"}},
    "encoding":{"x":{"field":"t","type":"quantitative","scale":{"domain":[-36,756],"nice":false,"zero":false},"axis":{"values":[0,120,240,360,480,600,720],"labels":false,"title":null}},
     "y":{"field":"Td","type":"quantitative","scale":{"domain":[13.41,23.78],"nice":false,"zero":false},"axis":{"values":[14,16,18,20,22],"title":"T (red), Td (green) [ºC]"}}}}
  ]},
  {"mark":{"type":"line","color":"#8e3db8","strokeWidth":2},
   "encoding":{"x":{"field":"t","type":"quantitative","scale":{"domain":[-36,756],"nice":false,"zero":false},"axis":{"values":[0,120,240,360,480,600,720],"labels":false,"title":null}},
    "y":{"field":"te","type":"quantitative","scale":{"domain":[316.73,343.0],"nice":false,"zero":false},"axis":{"orient":"right","values":[320,325,330,335,340],"grid":false,"title":"θₑ (purple) [K]","titleAngle":270,"titleBaseline":"top"}}}}
 ],
 "resolve":{"scale":{"y":"independent"}}
},
{
 "width":854,"height":232,
 "layer":[
  {"layer":[
   {"data":{"name":"slp"},"mark":{"type":"line","color":"#808080","strokeWidth":2,"point":{"filled":true,"size":30,"color":"#808080"}},
    "encoding":{"x":{"field":"t","type":"quantitative","scale":{"domain":[-36,756],"nice":false,"zero":false},"axis":{"values":[0,120,240,360,480,600,720],"labels":false,"title":null}},
     "y":{"field":"slp","type":"quantitative","scale":{"domain":[1006.08,1014.62],"nice":false,"zero":false},"axis":{"values":[1008,1010,1012,1014],"format":"d","title":"SLP (gray), altimeter (brown) [mb]"}}}},
   {"data":{"name":"obs"},"mark":{"type":"line","color":"#cc5500","strokeWidth":2,"point":{"filled":true,"size":30,"color":"#cc5500"}},
    "encoding":{"x":{"field":"t","type":"quantitative","scale":{"domain":[-36,756],"nice":false,"zero":false},"axis":{"values":[0,120,240,360,480,600,720],"labels":false,"title":null}},
     "y":{"field":"alt","type":"quantitative","scale":{"domain":[1006.08,1014.62],"nice":false,"zero":false},"axis":{"values":[1008,1010,1012,1014],"format":"d","title":"SLP (gray), altimeter (brown) [mb]"}}}}
  ]},
  {"data":{"name":"pcp"},"mark":{"type":"line","color":"#0000ff","strokeWidth":2,"point":{"filled":true,"size":30,"color":"#0000ff"}},
   "encoding":{"x":{"field":"t","type":"quantitative","scale":{"domain":[-36,756],"nice":false,"zero":false},"axis":{"values":[0,120,240,360,480,600,720],"labels":false,"title":null}},
    "y":{"field":"p","type":"quantitative","scale":{"domain":[-0.053,1.175],"nice":false,"zero":false},"axis":{"orient":"right","values":[0,0.25,0.5,0.75,1],"format":".2f","grid":false,"title":"Cumulative precip (blue) [in]","titleAngle":270,"titleBaseline":"top"}}}}
 ],
 "resolve":{"scale":{"y":"independent"}}
},
{
 "width":854,"height":232,
 "data":{"name":"obs"},
 "layer":[
  {"transform":[{"filter":"isValid(datum.dir)"}],
   "mark":{"type":"point","shape":"M-0.05,0L0.05,0L0.05,0.7L0.16,0.66L0,1L-0.16,0.66L-0.05,0.7Z","filled":true,"size":7000,"strokeWidth":0,"opacity":1,"clip":true},
   "encoding":{"x":{"field":"t","type":"quantitative","scale":{"domain":[-36,756],"nice":false,"zero":false},"axis":{"values":[0,120,240,360,480,600,720],"labels":false,"title":null}},
    "y":{"field":"V","type":"quantitative","scale":{"domain":[-1.47,32.6],"nice":false,"zero":false},"axis":{"values":[0,10,20,30],"title":"V (gray), Vgust (black) [kt]"}},
    "angle":{"field":"dir","type":"quantitative","scale":null},
    "color":{"field":"dir","type":"quantitative","scale":{"domain":[190,245,300,390],"range":["#ff0000","#ffff00","#00ff00","#00ffff"],"clamp":true},"legend":null}}},
  {"mark":{"type":"line","color":"#808080","strokeWidth":2.5},
   "encoding":{"x":{"field":"t","type":"quantitative","scale":{"domain":[-36,756],"nice":false,"zero":false},"axis":{"values":[0,120,240,360,480,600,720],"labels":false,"title":null}},
    "y":{"field":"V","type":"quantitative","scale":{"domain":[-1.47,32.6],"nice":false,"zero":false},"axis":{"values":[0,10,20,30],"title":"V (gray), Vgust (black) [kt]"}}}},
  {"mark":{"type":"circle","color":"black","size":45,"opacity":1},
   "encoding":{"x":{"field":"t","type":"quantitative","scale":{"domain":[-36,756],"nice":false,"zero":false},"axis":{"values":[0,120,240,360,480,600,720],"labels":false,"title":null}},
    "y":{"field":"G","type":"quantitative","scale":{"domain":[-1.47,32.6],"nice":false,"zero":false},"axis":{"values":[0,10,20,30],"title":"V (gray), Vgust (black) [kt]"}}}}
 ]
},
{
 "width":854,"height":232,
 "layer":[
  {"data":{"name":"obs"},"mark":{"type":"line","color":"#808080","strokeWidth":2},
   "encoding":{"x":{"field":"t","type":"quantitative","scale":{"domain":[-36,756],"nice":false,"zero":false},"axis":{"values":[0,120,240,360,480,600,720],"labelExpr":"(datum.value < 600 ? '0' : '') + (datum.value / 60)","title":null}},
    "y":{"field":"low","type":"quantitative","scale":{"type":"log","domain":[520,30000],"nice":false},"axis":null}}},
  {"data":{"name":"cld"},"mark":{"type":"text","fontSize":15,"fontStyle":"italic","fontWeight":"bold","font":"DejaVu Sans","baseline":"middle","align":"center"},
   "encoding":{"x":{"field":"t","type":"quantitative","scale":{"domain":[-36,756],"nice":false,"zero":false},"axis":{"values":[0,120,240,360,480,600,720],"labelExpr":"(datum.value < 600 ? '0' : '') + (datum.value / 60)","title":null}},
    "y":{"field":"z","type":"quantitative","scale":{"type":"log","domain":[520,30000],"nice":false},"axis":null},
    "text":{"field":"c"},
    "color":{"field":"c","type":"nominal","scale":{"domain":["F","S","B","O"],"range":["#808080","#008000","#ffa500","#ff0000"]},"legend":null}}},
  {"data":{"name":"obs"},"mark":{"type":"line","color":"black","strokeWidth":2},
   "encoding":{"x":{"field":"t","type":"quantitative","scale":{"domain":[-36,756],"nice":false,"zero":false},"axis":{"values":[0,120,240,360,480,600,720],"labelExpr":"(datum.value < 600 ? '0' : '') + (datum.value / 60)","title":null}},
    "y":{"field":"ceil","type":"quantitative","scale":{"type":"log","domain":[520,30000],"nice":false},"axis":{"orient":"left","values":[1000,10000],"labelExpr":"datum.value == 1000 ? '10³' : '10⁴'","title":"cloud base height [ft AGL]"}}}},
  {"data":{"name":"obs"},"mark":{"type":"point","opacity":0},
   "encoding":{"x":{"field":"t","type":"quantitative","scale":{"domain":[-36,756],"nice":false,"zero":false},"axis":{"values":[0,120,240,360,480,600,720],"labelExpr":"(datum.value < 600 ? '0' : '') + (datum.value / 60)","title":null}},
    "y":{"field":"ceil","type":"quantitative","scale":{"type":"log","domain":[520,30000],"nice":false},"axis":{"orient":"left","values":[600,700,800,900,2000,3000,4000,5000,6000,7000,8000,9000,20000,30000],"labels":false,"grid":false,"tickSize":3,"domain":false,"title":null}}}}
 ],
 "resolve":{"axis":{"y":"independent"}}
}
]
}
